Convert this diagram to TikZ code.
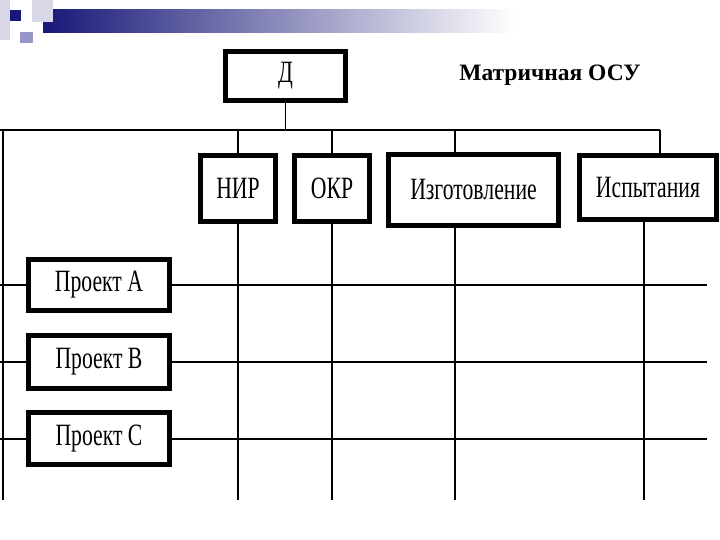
\documentclass[tikz,border=0pt]{standalone}
\usepackage{fontspec}
\setmainfont{Liberation Serif}
\newfontfamily\boxfont[FakeStretch=0.7]{Liberation Serif}
\usetikzlibrary{positioning}
\definecolor{slidenavy}{RGB}{24,24,120}
\definecolor{slidelilac}{RGB}{150,150,200}
\definecolor{slidepale}{RGB}{215,215,232}

\begin{document}
\begin{tikzpicture}[x=1pt, y=-1pt,
    unitbox/.style={draw, line width=5pt, inner sep=0pt,
        font=\boxfont\fontsize{31}{31}\selectfont},
    busline/.style={line width=2pt},
    tapline/.style={line width=1.3pt}]
    \useasboundingbox (0,0) rectangle (720,540);

    % ==========================================
    % Folien-Dekor oben links
    % ==========================================
    \shade[left color=slidenavy, right color=white] (43,10) rectangle (515,33);
    \fill[slidepale] (0,0) rectangle (10,40);
    \fill[slidepale] (32,0) rectangle (53,22);
    \fill[slidelilac] (20,32) rectangle (33,43);
    \fill[slidenavy] (10,10) rectangle (21,21);

    % Titel
    \node[anchor=base, font=\bfseries\fontsize{23.5}{23.5}\selectfont] (title) at (550,81) {Матричная ОСУ};

    % ==========================================
    % Leitung und Funktionsbereiche
    % ==========================================
    \node[unitbox, minimum width=120pt, minimum height=49pt] (boss) at (285.5,76) {Д};

    \node[unitbox, minimum width=75pt, minimum height=66pt] (nir) at (238,188.5) {НИР};
    \node[unitbox, minimum width=75pt, minimum height=66pt] (okr) at (332,188.5) {ОКР};
    \node[unitbox, minimum width=170pt, minimum height=71pt] (izg) at (473.5,190) {Изготовление};
    \node[unitbox, minimum width=137pt, minimum height=64pt] (isp) at (648,187.5) {Испытания};

    % Projekte
    \node[unitbox, minimum width=141pt, minimum height=51pt] (prA) at (99,285) {Проект А};
    \node[unitbox, minimum width=141pt, minimum height=53pt] (prB) at (99,362) {Проект В};
    \node[unitbox, minimum width=141pt, minimum height=52pt] (prC) at (99,438.5) {Проект С};

    % Hilfspunkte für Sammelschiene und Rasterenden
    \coordinate (busL) at (0,130);
    \coordinate (busR) at (660,130);
    \coordinate (izgTop) at (455,130);
    \coordinate (ispBot) at (644,500);
    \coordinate (izgBot) at (455,500);
    \coordinate (gridL) at (3,500);
    \coordinate (gridR) at (707,0);
    \coordinate (rowL) at (0,0);

    % ==========================================
    % Verbindungen
    % ==========================================
    \draw[tapline] (boss.south) -- (boss.south |- busL);
    \draw[busline] (busL) -- (busR);
    \draw[tapline] (busL -| gridL) -- (gridL);

    \draw[tapline] (nir.north |- busL) -- (nir.north);
    \draw[tapline] (okr.north |- busL) -- (okr.north);
    \draw[tapline] (izgTop) -- (izgTop |- izg.north);
    \draw[tapline] (busR) -- (busR |- isp.north);

    % Spalten nach unten
    \draw[tapline] (nir.south) -- (nir.south |- gridL);
    \draw[tapline] (okr.south) -- (okr.south |- gridL);
    \draw[tapline] (izgBot |- izg.south) -- (izgBot);
    \draw[tapline] (ispBot |- isp.south) -- (ispBot);

    % Zeilen quer
    \foreach \p in {prA, prB, prC} {
        \draw[busline] (rowL |- \p.west) -- (\p.west);
        \draw[busline] (\p.east) -- (gridR |- \p.east);
    }
\end{tikzpicture}
\end{document}
